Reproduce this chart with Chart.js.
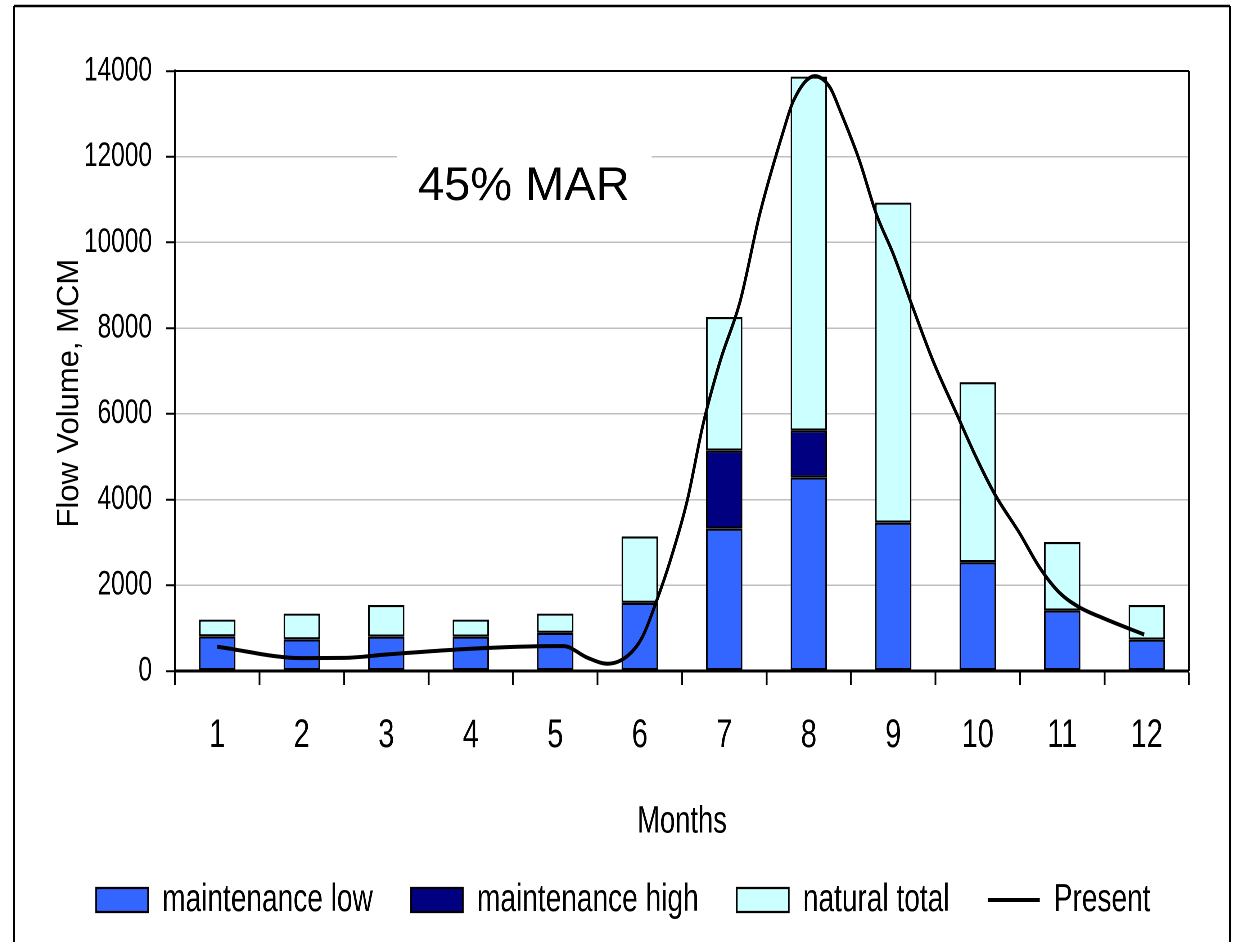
<!DOCTYPE html>
<html>
<head>
<meta charset="utf-8">
<script src="https://cdn.jsdelivr.net/npm/chart.js@4.4.1/dist/chart.umd.min.js"></script>
<style>
  html, body { margin: 0; padding: 0; background: #fff; overflow: hidden; }
  /* the original's axis and legend text is condensed: draw wider, then squeeze */
  #wrap { width: 1717px; height: 942px; transform: scaleX(0.71986); transform-origin: 0 0; }
</style>
</head>
<body>
<div id="wrap"><canvas id="flowChart"></canvas></div>
<script>
const months = ['1', '2', '3', '4', '5', '6', '7', '8', '9', '10', '11', '12'];
// bar heights (MCM)
const maintenanceLow = [810, 740, 800, 800, 890, 1590, 3320, 4520, 3460, 2540, 1410, 730];
const maintenanceHigh = [810, 740, 800, 800, 890, 1590, 5140, 5610, 3460, 2540, 1410, 730];
const naturalTotal = [1200, 1340, 1540, 1200, 1340, 3140, 8260, 13870, 10930, 6740, 3010, 1540];
// present flow curve, x in months
const presentMonth = [1.0, 2.0, 2.5, 3.0, 4.0, 5.0, 5.1, 5.38, 5.62, 5.86, 6.03, 6.2, 6.36, 6.56, 6.75, 6.95, 7.19, 7.42, 7.7, 7.82, 8.07, 8.25, 8.37, 8.6, 8.8, 9.0, 9.23, 9.47, 9.75, 9.98, 10.2, 10.5, 10.73, 10.96, 11.2, 11.5, 11.97];
const presentFlow = [565, 300, 305, 385, 520, 580, 580, 310, 170, 360, 790, 1640, 2570, 3960, 5760, 7220, 8640, 10660, 12600, 13310, 13880, 13620, 13080, 11910, 10660, 9730, 8490, 7240, 6000, 4990, 4130, 3200, 2420, 1840, 1490, 1220, 850];
const yTicks = [0, 2000, 4000, 6000, 8000, 10000, 12000, 14000];

const K = 1236 / 1717; // horizontal squeeze applied to the canvas
const arial = "'Liberation Sans', Arial, sans-serif";

// the stacked pieces on top of maintenance low
const highPart = maintenanceHigh.map((v, i) => (v - maintenanceLow[i]) > 0 ? v - maintenanceLow[i] : null);
const naturalPart = naturalTotal.map((v, i) => v - Math.max(maintenanceHigh[i], maintenanceLow[i]));
const presentPoints = presentMonth.map((m, i) => ({ x: m, y: presentFlow[i] }));

// text that keeps normal proportions in the original
function plainText(ctx, text, x, y, size, rot) {
    ctx.save();
    ctx.translate(x, y);
    ctx.scale(1 / K, 1);
    if (rot) ctx.rotate(rot);
    ctx.fillStyle = '#000';
    ctx.font = size + 'px ' + arial;
    ctx.textAlign = 'center';
    ctx.textBaseline = 'alphabetic';
    ctx.fillText(text, 0, 0);
    ctx.restore();
}

const extras = {
    id: 'extras',
    beforeDatasetsDraw(chart) {
        const { ctx, chartArea: a } = chart;
        ctx.save();
        const x0 = a.left + a.width * 0.219, x1 = a.left + a.width * 0.470;
        const y0 = a.top + a.height * 0.115, y1 = a.top + a.height * 0.257;
        ctx.fillStyle = '#fff';
        ctx.fillRect(x0, y0, x1 - x0, y1 - y0);
        ctx.strokeStyle = '#000';
        ctx.lineWidth = 2;
        ctx.beginPath();
        ctx.moveTo(a.left, a.top);
        ctx.lineTo(a.right, a.top);
        ctx.stroke();
        ctx.lineWidth = 2.4;
        ctx.beginPath();
        ctx.moveTo(a.right, a.top);
        ctx.lineTo(a.right, a.bottom);
        ctx.stroke();
        ctx.restore();
        plainText(ctx, '45% MAR', a.left + a.width * 0.344, a.top + a.height * 0.215, 47);
        plainText(ctx, 'Flow Volume, MCM', 78 / K, a.top + a.height * 0.537, 31, -Math.PI / 2);
    },
    afterDraw(chart) {
        const ctx = chart.ctx;
        ctx.save();
        ctx.strokeStyle = '#000';
        ctx.lineWidth = 2.5;
        ctx.beginPath();
        ctx.moveTo(14 / K, 6);
        ctx.lineTo(1230 / K, 6);
        ctx.stroke();
        ctx.lineWidth = 2.8;
        ctx.beginPath();
        ctx.moveTo(14 / K, 6);
        ctx.lineTo(14 / K, 1000);
        ctx.moveTo(1230 / K, 6);
        ctx.lineTo(1230 / K, 1000);
        ctx.stroke();
        ctx.restore();
    }
};

const barBase = { grouped: false, borderColor: '#000', borderWidth: 2.2, borderSkipped: false, pointStyle: 'rect', order: 1, barPercentage: 0.43, categoryPercentage: 1 };

new Chart(document.getElementById('flowChart'), {
    type: 'bar',
    data: {
        labels: months,
        datasets: [
            Object.assign({ label: 'maintenance low', data: maintenanceLow, backgroundColor: '#3366FF' }, barBase),
            Object.assign({ label: 'maintenance high', data: highPart, backgroundColor: '#000080' }, barBase),
            Object.assign({ label: 'natural total', data: naturalPart, backgroundColor: '#CCFFFF' }, barBase),
            {
                type: 'line',
                label: 'Present',
                data: presentPoints,
                xAxisID: 'xl',
                borderColor: '#000',
                backgroundColor: '#000',
                borderWidth: 4,
                pointRadius: 0,
                pointStyle: 'line',
                cubicInterpolationMode: 'monotone',
                order: 0
            }
        ]
    },
    options: {
        responsive: true,
        maintainAspectRatio: false,
        animation: false,
        devicePixelRatio: 2,
        layout: { padding: { top: 71, right: 1717 - 1189 / K, bottom: 12.5, left: 80 } },
        plugins: {
            tooltip: { enabled: false },
            legend: {
                position: 'bottom',
                labels: {
                    usePointStyle: true,
                    pointStyleWidth: 52 / K,
                    boxHeight: 24,
                    padding: 53,
                    color: '#000',
                    font: { family: arial, size: 39 },
                    sort: (a, b) => a.datasetIndex - b.datasetIndex
                }
            }
        },
        scales: {
            x: {
                stacked: true,
                grid: { drawOnChartArea: false, offset: true, tickLength: 14, tickColor: '#000', tickWidth: 2.5 },
                border: { color: '#000', width: 3 },
                ticks: { color: '#000', padding: 27, font: { family: arial, size: 40 }, maxRotation: 0 },
                title: { display: true, text: 'Months', color: '#000', font: { family: arial, size: 38 }, padding: { top: 0, bottom: -17.3 } },
                afterFit(scale) { scale.height = 156.5; }
            },
            xl: {
                type: 'linear',
                display: false,
                offset: false,
                min: 0.5,
                max: 12.5
            },
            y: {
                stacked: true,
                min: 0,
                max: 14000,
                afterBuildTicks(scale) { scale.ticks = yTicks.map(v => ({ value: v })); },
                grid: { color: '#BFBFBF', lineWidth: 1.5, tickLength: 9 / K, tickColor: '#000', tickWidth: 2 },
                border: { color: '#000', width: 2.8 },
                ticks: { color: '#000', padding: 14 / K, font: { family: arial, size: 34 }, callback: v => String(v) },
                afterFit(scale) { scale.width = 175 / K - 80; }
            }
        }
    },
    plugins: [extras]
});
</script>
</body>
</html>
